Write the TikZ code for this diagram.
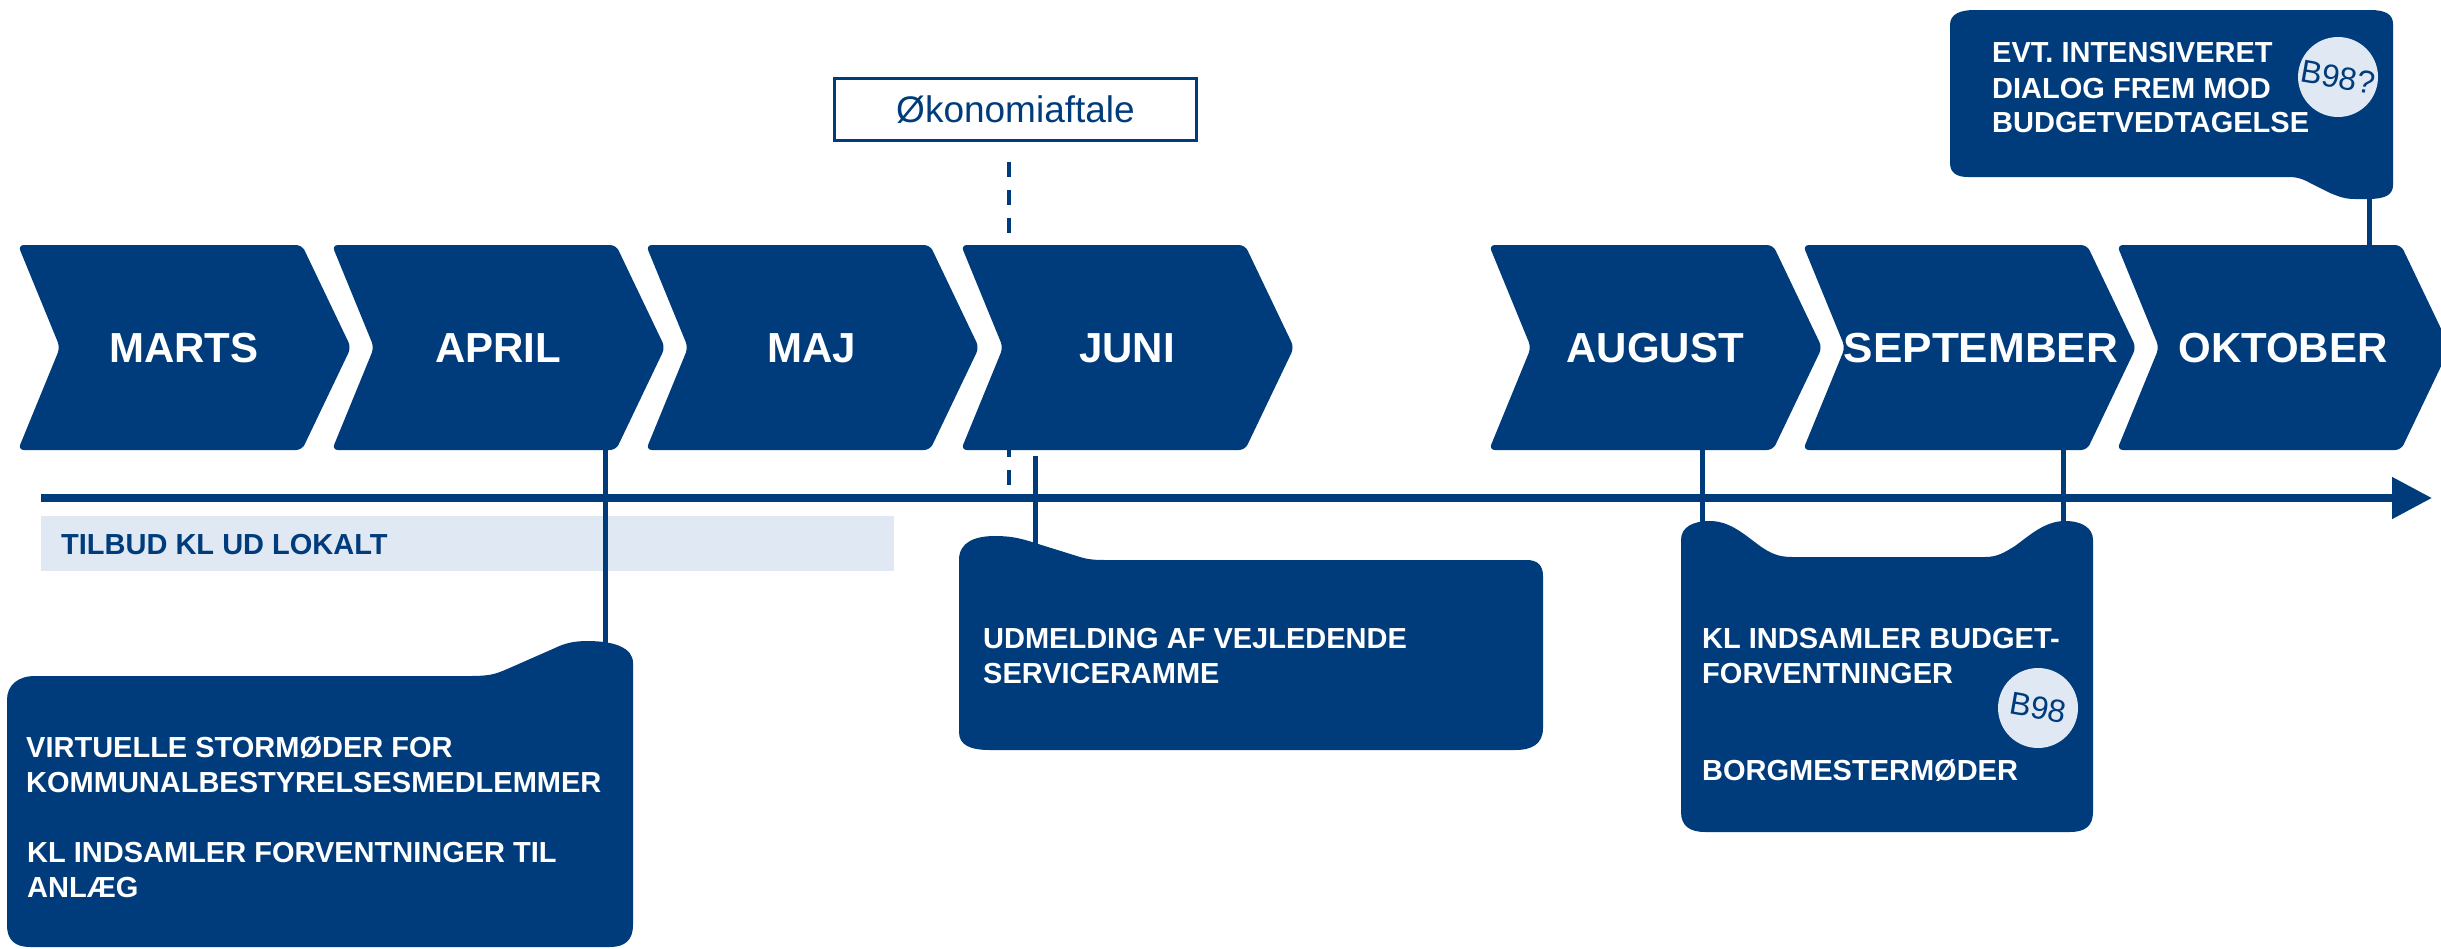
\documentclass[tikz,border=0pt]{standalone}
\usepackage{fontspec}
\setmainfont{Liberation Sans}
\usetikzlibrary{arrows.meta}
\definecolor{kblue}{HTML}{003C7B}
\definecolor{klight}{HTML}{DFE8F3}
\tikzset{
  month/.style={text=white, font=\fontsize{42}{50}\selectfont\bfseries, inner sep=0pt},
  btext/.style={text=white, font=\fontsize{29}{35}\selectfont\bfseries, anchor=base west, inner sep=0pt},
  bandtext/.style={text=kblue, font=\fontsize{29}{35}\selectfont\bfseries, anchor=base west, inner sep=0pt},
  conn/.style={draw=kblue, line width=5pt},
  badge/.style={circle, fill=klight, text=kblue, minimum size=80pt, inner sep=0pt, font=\fontsize{32}{38}\selectfont, rotate=-10},
  panel/.style={fill=kblue},
}
\newcommand{\monthchev}[4][]{%
  \fill[kblue, rounded corners=6pt] (#2,245) -- (#2+284,245) -- (#2+333,347.5) -- (#2+284,450) -- (#2,450) -- (#2+42,347.5) -- cycle;
  \node[month,#1] (#3) at (#2+166,348) {#4};}
\begin{document}
\begin{tikzpicture}[x=1pt,y=-1pt]
\useasboundingbox (0,0) rectangle (2441,948);

% Økonomiaftale box and dashed marker
\node[draw=kblue, line width=3pt, minimum width=362pt, minimum height=62pt, inner sep=0pt,
      text=kblue, font=\fontsize{37}{44}\selectfont] (oko) at (1015.5,109.5) {Økonomiaftale};
\coordinate (dashTop) at (1009,162);
\coordinate (dashBot) at (1009,486);
\draw[kblue, line width=4pt, dash pattern=on 15pt off 13pt] (dashTop) -- (dashBot);

% month chevrons
\monthchev{18}{marts}{MARTS}
\monthchev{332}{april}{APRIL}
\monthchev{646}{maj}{MAJ}
\monthchev{961}{juni}{JUNI}
\monthchev{1489}{august}{AUGUST}
\monthchev[xshift=12pt, xscale=1.05]{1803}{september}{SEPTEMBER}
\monthchev{2117}{oktober}{OKTOBER}

% band
\fill[klight] (41,516) rectangle (894,571);
\node[bandtext] (tilbud) at (61,554) {TILBUD KL UD LOKALT};

% connector coordinates
\coordinate (aprB) at (605,450);  \coordinate (b1T) at (605,643);
\coordinate (junB) at (1035,456); \coordinate (b2T) at (1035,544);
\coordinate (augB) at (1702,450); \coordinate (b3L) at (1702,523);
\coordinate (sepB) at (2063,450); \coordinate (b3R) at (2063,523);
\coordinate (b4B) at (2369,197);  \coordinate (oktT) at (2369,246);
\draw[conn] (aprB) -- (b1T);
\draw[conn] (junB) -- (b2T);
\draw[conn] (augB) -- (b3L);
\draw[conn] (sepB) -- (b3R);
\draw[conn] (b4B) -- (oktT);

% timeline
\coordinate (tlS) at (41,498);
\coordinate (tlE) at (2432,498);
\draw[kblue, line width=8pt, -{Triangle[length=40pt,width=40pt]}] (tlS) -- (tlE);

% box 1 (April)
\fill[panel] (470,676) .. controls (490,676) and (495,674) .. (505,670) -- (555,648)
  .. controls (565,643) and (575,641) .. (587,641) .. controls (615,641) and (633,648) .. (633,663)
  -- (633,925) .. controls (633,940) and (625,947) .. (610,947) -- (30,947)
  .. controls (15,947) and (7,940) .. (7,925) -- (7,700) .. controls (7,685) and (18,676) .. (35,676) -- cycle;
\node[btext] (v1) at (26,757) {VIRTUELLE STORMØDER FOR};
\node[btext] (v2) at (26,792) {KOMMUNALBESTYRELSESMEDLEMMER};
\node[btext] (v3) at (27,862) {KL INDSAMLER FORVENTNINGER TIL};
\node[btext] (v4) at (27,897) {ANLÆG};

% box 2 (Juni)
\fill[panel] (959,560) .. controls (959,542) and (975,536) .. (995,536)
  .. controls (1010,536) and (1020,538) .. (1035,543) -- (1080,557)
  .. controls (1088,559.5) and (1095,560) .. (1105,560) -- (1527,560)
  .. controls (1538,560) and (1543,566) .. (1543,576) -- (1543,728)
  .. controls (1543,744) and (1532,750) .. (1515,750) -- (990,750)
  .. controls (970,750) and (959,745) .. (959,732) -- cycle;
\node[btext] (u1) at (983,648) {UDMELDING AF VEJLEDENDE};
\node[btext] (u2) at (983,683) {SERVICERAMME};

% box 3 (August-September)
\fill[panel] (1681,540) .. controls (1681,527) and (1693,521) .. (1710,521)
  .. controls (1730,521) and (1745,535) .. (1760,546) .. controls (1770,553) and (1778,557) .. (1792,557)
  -- (1985,557) .. controls (1998,557) and (2005,552) .. (2015,546)
  .. controls (2030,535) and (2045,521) .. (2065,521) .. controls (2082,521) and (2093,528) .. (2093,540)
  -- (2093,812) .. controls (2093,826) and (2085,832) .. (2070,832) -- (1705,832)
  .. controls (1690,832) and (1681,826) .. (1681,812) -- cycle;
\node[btext] (k1) at (1702,648) {KL INDSAMLER BUDGET-};
\node[btext] (k2) at (1702,683) {FORVENTNINGER};
\node[btext] (k3) at (1702,780) {BORGMESTERMØDER};
\node[badge] (b98) at (2038,708) {B98};

% box 4 (Oktober)
\fill[panel] (1950,25) .. controls (1950,14) and (1960,10) .. (1975,10) -- (2370,10)
  .. controls (2385,10) and (2393,14) .. (2393,24) -- (2393,185)
  .. controls (2393,195) and (2385,199) .. (2368,199) -- (2355,199)
  .. controls (2345,199) and (2340,197) .. (2330,193) -- (2312,184)
  .. controls (2303,179) and (2298,177) .. (2288,177) -- (1968,177)
  .. controls (1957,177) and (1950,173) .. (1950,163) -- cycle;
\node[btext] (e1) at (1992,62) {EVT. INTENSIVERET};
\node[btext] (e2) at (1992,98) {DIALOG FREM MOD};
\node[btext] (e3) at (1992,132) {BUDGETVEDTAGELSE};
\node[badge] (b98q) at (2338,77) {B98?};
\end{tikzpicture}
\end{document}
